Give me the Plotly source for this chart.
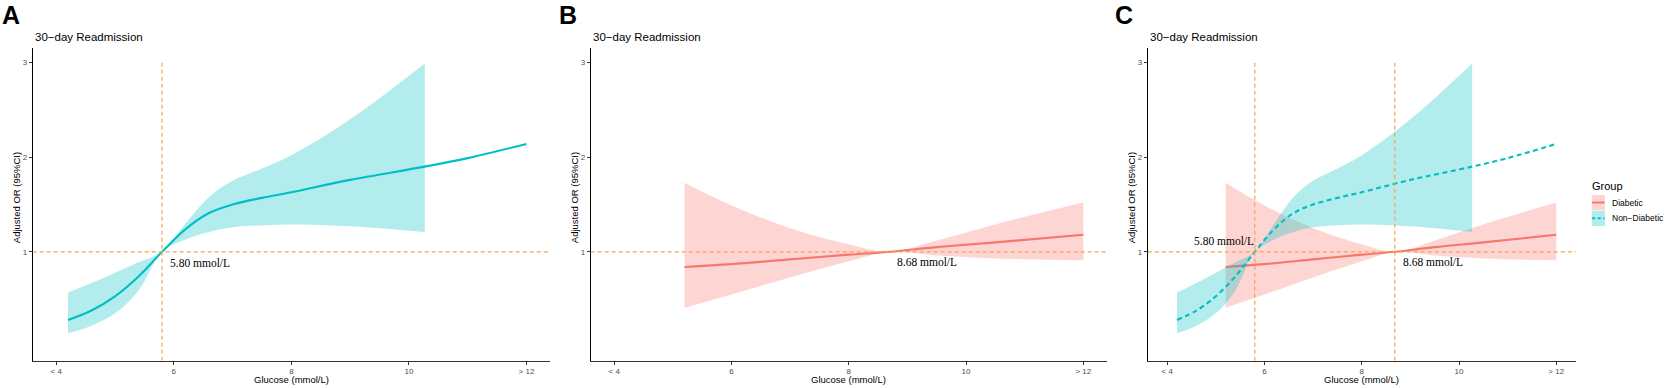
import plotly.graph_objects as go

# ---------------- data ----------------
# Non-Diabetic (panel A and C)
nd_x = [4.2, 4.6, 5.0, 5.4, 5.8, 6.2, 6.6, 7.0, 7.5, 8.0, 9.0, 10.27, 11.0, 12.0]
nd_or = [0.28, 0.38, 0.53, 0.74, 1.00, 1.24, 1.41, 1.50, 1.57, 1.63, 1.76, 1.90, 1.99, 2.14]
nd_ci_x = [4.2, 4.6, 5.0, 5.4, 5.8, 6.2, 6.6, 7.0, 7.5, 8.0, 9.0, 10.27]
nd_lo = [0.14, 0.22, 0.35, 0.59, 1.00, 1.13, 1.21, 1.26, 1.28, 1.29, 1.27, 1.21]
nd_hi = [0.57, 0.67, 0.78, 0.89, 1.00, 1.30, 1.58, 1.75, 1.88, 2.02, 2.40, 2.99]

# Diabetic (panel B and C)
d_x = [5.2, 6.0, 7.0, 8.0, 8.68, 9.5, 10.5, 12.0]
d_or = [0.84, 0.87, 0.92, 0.97, 1.00, 1.05, 1.10, 1.18]
d_lo = [0.41, 0.55, 0.73, 0.90, 1.00, 0.96, 0.93, 0.91]
d_hi = [1.73, 1.49, 1.25, 1.08, 1.00, 1.12, 1.29, 1.52]

cut_nd = 5.80
cut_d = 8.68

x_tickvals = [4, 6, 8, 10, 12]
x_ticktext = ["< 4", "6", "8", "10", "> 12"]
y_tickvals = [1, 2, 3]
group_names = ["Diabetic", "Non\u2212Diabetic"]

# ---------------- styling ----------------
W, H = 1664, 388
CYAN = "#00BFC4"
RED = "#F8766D"
CYAN_F = "rgba(0,191,196,0.30)"
RED_F = "rgba(248,118,109,0.30)"
ORANGE = "#F5A44F"
SANS = "Liberation Sans, Arial, sans-serif"
SERIF = "Liberation Serif, Times New Roman, serif"


def px(x):
    return x / W


def py(y):
    return 1 - y / H


panels = [
    # (axis suffix, left px, right px, letter)
    ("", 32.7, 550.0, "A"),
    ("2", 590.7, 1106.8, "B"),
    ("3", 1147.8, 1575.7, "C"),
]
top_px, bot_px = 48.3, 360.7
letter_x = [0, 556.5, 1113.0]

fig = go.Figure()


def add_ribbon(xa, ya, cx, lo, hi, fillcol):
    fig.add_trace(go.Scatter(x=cx, y=lo, mode="lines", line=dict(width=0, shape="spline", color=fillcol),
                             xaxis=xa, yaxis=ya, showlegend=False, hoverinfo="skip"))
    fig.add_trace(go.Scatter(x=cx, y=hi, mode="lines", fill="tonexty", fillcolor=fillcol,
                             line=dict(width=0, shape="spline", color=fillcol),
                             xaxis=xa, yaxis=ya, showlegend=False, hoverinfo="skip"))


def add_line(xa, ya, x, y, col, dash="solid"):
    fig.add_trace(go.Scatter(x=x, y=y, mode="lines", line=dict(width=2.1, color=col, shape="spline", dash=dash),
                             xaxis=xa, yaxis=ya, showlegend=False))


# Panel A
add_ribbon("x", "y", nd_ci_x, nd_lo, nd_hi, CYAN_F)
add_line("x", "y", nd_x, nd_or, CYAN)
# Panel B
add_ribbon("x2", "y2", d_x, d_lo, d_hi, RED_F)
add_line("x2", "y2", d_x, d_or, RED)
# Panel C
add_ribbon("x3", "y3", d_x, d_lo, d_hi, RED_F)
add_line("x3", "y3", d_x, d_or, RED)
add_ribbon("x3", "y3", nd_ci_x, nd_lo, nd_hi, CYAN_F)
add_line("x3", "y3", nd_x, nd_or, CYAN, dash="5px,3.5px")

layout = dict(width=W, height=H, margin=dict(l=0, r=0, t=0, b=0),
              paper_bgcolor="white", plot_bgcolor="white", showlegend=False)

shapes = []
annotations = []
for i, (suf, l, r, letter) in enumerate(panels):
    xname = "xaxis" + suf
    yname = "yaxis" + suf
    layout[xname] = dict(domain=[px(l), px(r)], range=[3.6, 12.4], tickvals=x_tickvals, ticktext=x_ticktext,
                         showline=True, linecolor="#333333", linewidth=1, ticks="outside", ticklen=3,
                         tickcolor="#333333", tickwidth=1, showgrid=False, zeroline=False,
                         tickfont=dict(family=SANS, size=8, color="#4D4D4D"),
                         anchor="y" + suf, fixedrange=True)
    layout[yname] = dict(domain=[py(bot_px), py(top_px)], range=[-0.15, 3.15], tickvals=y_tickvals,
                         showline=True, linecolor="black", linewidth=1, ticks="outside", ticklen=3,
                         tickcolor="#333333", tickwidth=1, showgrid=False, zeroline=False,
                         tickfont=dict(family=SANS, size=8, color="#4D4D4D"),
                         anchor="x" + suf, fixedrange=True)
    xr = "x" + suf
    yr = "y" + suf
    # horizontal reference line at OR = 1
    shapes.append(dict(type="line", xref=xr + " domain", yref=yr, x0=0, x1=1, y0=1, y1=1,
                       line=dict(color=ORANGE, width=1.3, dash="4px,3px")))
    # panel letter
    annotations.append(dict(text="<b>%s</b>" % letter, x=px(letter_x[i]), y=py(15.5), xref="paper", yref="paper",
                            xanchor="left", yanchor="middle", showarrow=False,
                            font=dict(family=SANS, size=25, color="black")))
    # panel title
    annotations.append(dict(text="30\u2212day Readmission", x=px(l), y=py(36.7), xref="paper", yref="paper",
                            xanchor="left", yanchor="middle", showarrow=False,
                            font=dict(family=SANS, size=11.5, color="black")))
    # axis titles
    annotations.append(dict(text="Adjusted OR (95%CI)", x=px(l - 16.5), y=py(198),
                            xref="paper", yref="paper", xanchor="center", yanchor="middle", textangle=-90,
                            showarrow=False, font=dict(family=SANS, size=9.5, color="black")))
    annotations.append(dict(text="Glucose (mmol/L)", x=px((l + r) / 2), y=py(379),
                            xref="paper", yref="paper", xanchor="center", yanchor="middle",
                            showarrow=False, font=dict(family=SANS, size=9.5, color="black")))

# vertical cut-point lines
shapes.append(dict(type="line", xref="x", yref="y", x0=cut_nd, x1=cut_nd, y0=-0.15, y1=3,
                   line=dict(color=ORANGE, width=1.2, dash="4px,3px")))
shapes.append(dict(type="line", xref="x3", yref="y3", x0=cut_nd, x1=cut_nd, y0=-0.15, y1=3,
                   line=dict(color=ORANGE, width=1.2, dash="4px,3px")))
shapes.append(dict(type="line", xref="x3", yref="y3", x0=cut_d, x1=cut_d, y0=-0.15, y1=3,
                   line=dict(color=ORANGE, width=1.2, dash="4px,3px")))

# cut-point labels
lab_font = dict(family=SERIF, size=11.5, color="black")
annotations.append(dict(text="%.2f mmol/L" % cut_nd, x=5.9, y=0.88, xref="x", yref="y",
                        xanchor="left", yanchor="middle", showarrow=False, font=lab_font))
annotations.append(dict(text="%.2f mmol/L" % cut_d, x=8.78, y=0.89, xref="x2", yref="y2",
                        xanchor="left", yanchor="middle", showarrow=False, font=lab_font))
annotations.append(dict(text="%.2f mmol/L" % cut_nd, x=4.51, y=1.116, xref="x3", yref="y3",
                        xanchor="left", yanchor="middle", showarrow=False, font=lab_font))
annotations.append(dict(text="%.2f mmol/L" % cut_d, x=8.81, y=0.895, xref="x3", yref="y3",
                        xanchor="left", yanchor="middle", showarrow=False, font=lab_font))

# manual legend (ggplot style keys)
annotations.append(dict(text="Group", x=px(1590.2), y=py(185.7), xref="paper", yref="paper",
                        xanchor="left", yanchor="middle", showarrow=False,
                        font=dict(family=SANS, size=11, color="black")))
keys = [(195.0, 210.0, RED_F, RED, "solid", group_names[0]),
        (210.7, 226.0, CYAN_F, CYAN, "3px,2.5px", group_names[1])]
for (y0, y1, fc, lc, dash, name) in keys:
    shapes.append(dict(type="rect", xref="paper", yref="paper", x0=px(1591.7), x1=px(1605),
                       y0=py(y1), y1=py(y0), fillcolor=fc, line=dict(width=0)))
    ym = (y0 + y1) / 2
    shapes.append(dict(type="line", xref="paper", yref="paper", x0=px(1592.2), x1=px(1604.5),
                       y0=py(ym), y1=py(ym), line=dict(color=lc, width=2, dash=dash)))
    annotations.append(dict(text=name, x=px(1609.5), y=py(ym), xref="paper", yref="paper",
                            xanchor="left", yanchor="middle", showarrow=False,
                            font=dict(family=SANS, size=8.5, color="black")))

layout["shapes"] = shapes
layout["annotations"] = annotations
fig.update_layout(**layout)

fig.write_html("out.html",
               config={"displayModeBar": False},
               post_script="document.body.style.margin='0';document.body.style.overflow='hidden';")
